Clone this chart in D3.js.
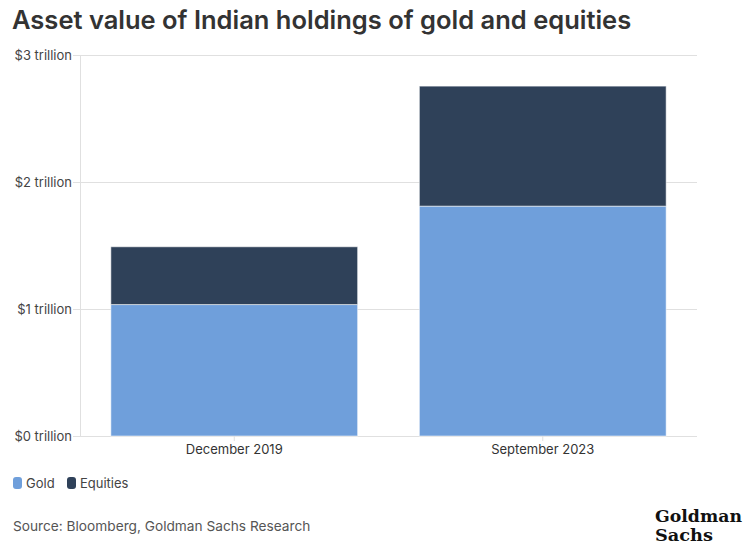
<!DOCTYPE html>
<html><head><meta charset="utf-8">
<script src="https://cdn.jsdelivr.net/npm/d3@7"></script>
<style>
body{margin:0;background:#fff;}
svg{display:block;font-family:Inter,"Noto Sans",sans-serif;}
</style></head>
<body><svg id="c" width="752" height="551"></svg>
<script>
const categories = ["December 2019", "September 2023"];
const gold = [1.035, 1.81];
const equities = [0.455, 0.945];
const seriesNames = ["Gold", "Equities"];
const seriesColors = ["#6f9fdb", "#2f4159"];
const yTicks = [0, 1, 2, 3];

const svg = d3.select("#c");
const m = {l:80, r:697, t:55, b:436};
const x = d3.scaleBand().domain(categories).range([m.l, m.r]).paddingInner(0.2).paddingOuter(0.1);
const y = d3.scaleLinear().domain([0,3]).range([m.b, m.t]);

svg.append("text").attr("x",12).attr("y",29).attr("font-size",25.5).attr("font-weight",600)
  .attr("fill","#333").text("Asset value of Indian holdings of gold and equities");

// gridlines
svg.append("g").selectAll("line").data(yTicks).join("line")
  .attr("x1",m.l-7).attr("x2",m.r).attr("y1",d=>y(d)+0.5).attr("y2",d=>y(d)+0.5)
  .attr("stroke","#e0e0e0").attr("stroke-width",1);
svg.append("line").attr("x1",m.l+0.5).attr("x2",m.l+0.5).attr("y1",m.t).attr("y2",m.b)
  .attr("stroke","#e0e0e0");

const yAxis = svg.append("g").attr("transform",`translate(${m.l-8},0)`)
  .call(d3.axisLeft(y).tickValues(yTicks).tickSize(0).tickPadding(0).tickFormat(d=>`$${d} trillion`));
yAxis.select(".domain").remove();
yAxis.selectAll("text").attr("font-size",13).attr("fill","#444").attr("font-family","Inter,sans-serif");

// stacked data
const rows = categories.map((c,i)=>({cat:c, Gold:gold[i], Equities:equities[i]}));
const stack = d3.stack().keys(seriesNames)(rows);
svg.append("g").selectAll("g").data(stack).join("g")
  .attr("fill",(d,i)=>seriesColors[i])
  .selectAll("rect").data(d=>d).join("rect")
  .attr("x",d=>x(d.data.cat)).attr("width",x.bandwidth())
  .attr("y",d=>y(d[1])).attr("height",d=>y(d[0])-y(d[1]))
  .attr("stroke","rgba(255,255,255,0.55)").attr("stroke-width",1);

const xAxis = svg.append("g").attr("transform",`translate(0,${m.b})`)
  .call(d3.axisBottom(x).tickSize(5).tickPadding(4));
xAxis.select(".domain").remove();
xAxis.selectAll("line").attr("stroke","#e0e0e0");
xAxis.selectAll("text").attr("font-size",13).attr("fill","#333").attr("font-family","Inter,sans-serif");

// legend
const lg = svg.append("g");
const lx = [13, 67];
seriesNames.forEach((s,i)=>{
  lg.append("rect").attr("x",lx[i]).attr("y",477).attr("width",9).attr("height",12).attr("rx",3)
    .attr("fill",seriesColors[i]);
  lg.append("text").attr("x",lx[i]+13).attr("y",488).attr("font-size",13).attr("fill","#444").text(s);
});

svg.append("text").attr("x",13).attr("y",531).attr("font-size",13.7).attr("fill","#555")
  .text("Source: Bloomberg, Goldman Sachs Research");

const logo = svg.append("g")
  .attr("font-family","'DejaVu Serif Condensed','DejaVu Serif',serif")
  .attr("font-stretch","condensed").attr("font-weight","bold").attr("font-size",16).attr("fill","#111");
logo.append("text").attr("x",655).attr("y",522).attr("textLength",87).attr("lengthAdjust","spacingAndGlyphs").text("Goldman");
logo.append("text").attr("x",655).attr("y",541).attr("textLength",58).attr("lengthAdjust","spacingAndGlyphs").text("Sachs");
</script></body></html>
